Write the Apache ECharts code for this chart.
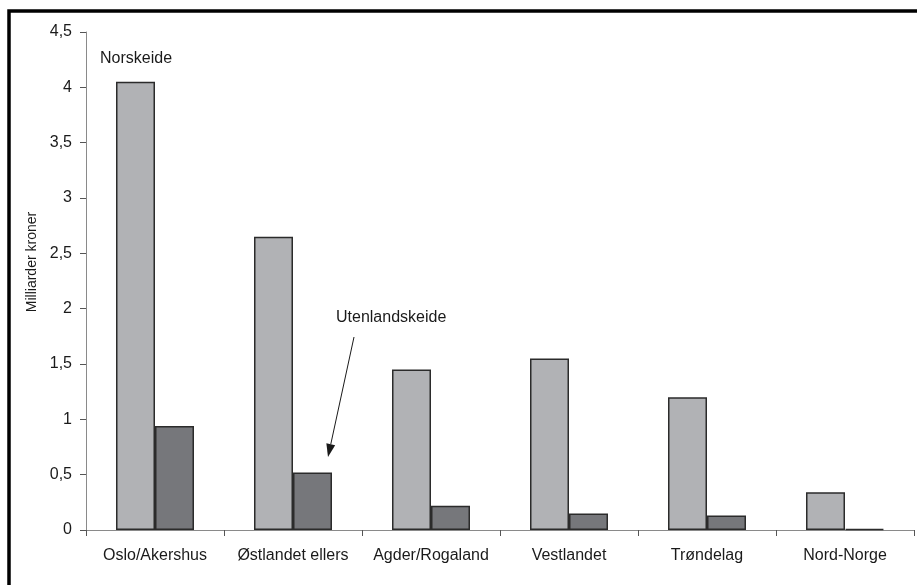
<!DOCTYPE html>
<html>
<head>
<meta charset="utf-8">
<script src="https://cdn.jsdelivr.net/npm/echarts@6/dist/echarts.min.js"></script>
<style>
html,body{margin:0;padding:0;background:#fff;}
#c{width:917px;height:585px;}
</style>
</head>
<body>
<div id="c"></div>
<script>
const categories = ['Oslo/Akershus', 'Østlandet ellers', 'Agder/Rogaland', 'Vestlandet', 'Trøndelag', 'Nord-Norge'];
const norskeide = [4.05, 2.65, 1.45, 1.55, 1.2, 0.34];
const utenlandskeide = [0.94, 0.52, 0.22, 0.15, 0.13, 0.01];
const yTicks = { min: 0, max: 4.5, interval: 0.5 };

const FONT = '"Liberation Sans", Arial, sans-serif';
const chart = echarts.init(document.getElementById('c'), null, { renderer: 'canvas' });

// arrow geometry (annotation)
const tail = [354, 337], tip = [328, 457];
const dx = tip[0] - tail[0], dy = tip[1] - tail[1];
const len = Math.sqrt(dx * dx + dy * dy);
const ux = dx / len, uy = dy / len;
const headL = 13, headW = 4.5;
const bx = tip[0] - ux * headL, by = tip[1] - uy * headL;

chart.setOption({
  backgroundColor: '#fff',
  animation: false,
  grid: { left: 86, top: 32, right: 3, bottom: 55, containLabel: false },
  xAxis: {
    type: 'category',
    data: categories,
    axisLine: { lineStyle: { color: '#8a8a8a', width: 1 } },
    axisTick: { show: true, length: 6, inside: false, lineStyle: { color: '#555' } },
    axisLabel: { color: '#1a1a1a', fontSize: 16, fontFamily: FONT, margin: 18, interval: 0 }
  },
  yAxis: {
    type: 'value',
    min: yTicks.min, max: yTicks.max, interval: yTicks.interval,
    axisLine: { show: true, lineStyle: { color: '#8a8a8a', width: 1 } },
    axisTick: { show: true, length: 6, lineStyle: { color: '#555' } },
    splitLine: { show: false },
    axisLabel: {
      color: '#1a1a1a', fontSize: 16, fontFamily: FONT, margin: 14,
      formatter: v => String(v).replace('.', ',')
    }
  },
  series: [
    {
      name: 'Norskeide', type: 'bar', data: norskeide,
      barWidth: 39, barGap: '0%',
      itemStyle: { color: '#b1b2b5', borderColor: '#2b2b2b', borderWidth: 1.5 }
    },
    {
      name: 'Utenlandskeide', type: 'bar', data: utenlandskeide,
      barWidth: 39, barGap: '0%',
      itemStyle: { color: '#76777b', borderColor: '#2b2b2b', borderWidth: 1.5 }
    }
  ],
  graphic: [
    { type: 'rect', shape: { x: 9, y: 11, width: 940, height: 620 },
      style: { fill: 'none', stroke: '#000', lineWidth: 3.5 }, silent: true },
    { type: 'text', x: 32, y: 262, rotation: Math.PI / 2,
      style: { text: 'Milliarder kroner', font: '14px ' + FONT, fill: '#1a1a1a',
               align: 'center', verticalAlign: 'middle' } },
    { type: 'text', x: 100, y: 59,
      style: { text: 'Norskeide', font: '16px ' + FONT, fill: '#1a1a1a', verticalAlign: 'middle' } },
    { type: 'text', x: 336, y: 318,
      style: { text: 'Utenlandskeide', font: '16px ' + FONT, fill: '#1a1a1a', verticalAlign: 'middle' } },
    { type: 'line', shape: { x1: tail[0], y1: tail[1], x2: bx, y2: by },
      style: { stroke: '#1a1a1a', lineWidth: 1 } },
    { type: 'polygon', shape: { points: [
        [tip[0], tip[1]],
        [bx - uy * headW, by + ux * headW],
        [bx + uy * headW, by - ux * headW]
      ] }, style: { fill: '#1a1a1a' } }
  ]
});
</script>
</body>
</html>
